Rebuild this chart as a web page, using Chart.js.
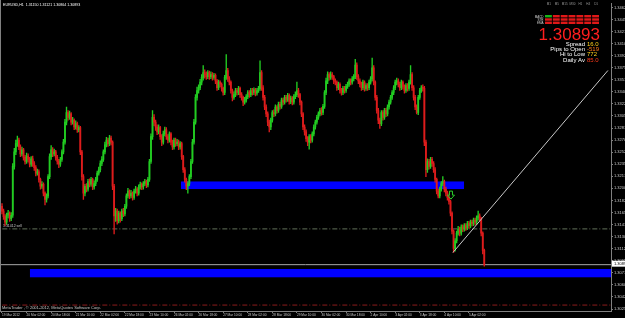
<!DOCTYPE html>
<html>
<head>
<meta charset="utf-8">
<script src="https://cdn.jsdelivr.net/npm/chart.js@4.4.0/dist/chart.umd.min.js"></script>
<style>
html, body { margin: 0; padding: 0; background: #000; }
canvas { display: block; }
</style>
</head>
<body>
<canvas id="chart" width="625" height="318"></canvas>
<script>
"use strict";

// EURUSD H1, one bar per hour from 19 Mar 2012 10:00
const opens = [
    1.3174,1.3167,1.3159,1.3151,1.3161,1.3164,1.3156,1.3161,1.3232,1.3253,
    1.3265,1.3270,1.3260,1.3250,1.3256,1.3245,1.3239,1.3247,1.3242,1.3235,
    1.3243,1.3236,1.3230,1.3222,1.3224,1.3213,1.3203,1.3206,1.3193,1.3184,
    1.3189,1.3217,1.3246,1.3256,1.3250,1.3253,1.3245,1.3239,1.3235,1.3242,
    1.3253,1.3267,1.3296,1.3310,1.3303,1.3308,1.3296,1.3299,1.3289,1.3294,
    1.3285,1.3288,1.3253,1.3217,1.3193,1.3203,1.3199,1.3210,1.3206,1.3213,
    1.3202,1.3207,1.3213,1.3222,1.3227,1.3236,1.3242,1.3253,1.3263,1.3270,
    1.3265,1.3273,1.3267,1.3203,1.3160,1.3167,1.3153,1.3164,1.3156,1.3167,
    1.3163,1.3174,1.3189,1.3196,1.3189,1.3193,1.3187,1.3196,1.3199,1.3193,
    1.3202,1.3206,1.3202,1.3207,1.3210,1.3205,1.3213,1.3239,1.3275,1.3303,
    1.3296,1.3289,1.3282,1.3288,1.3275,1.3267,1.3279,1.3285,1.3275,1.3270,
    1.3279,1.3267,1.3260,1.3270,1.3265,1.3267,1.3260,1.3265,1.3246,1.3227,
    1.3213,1.3203,1.3207,1.3217,1.3239,1.3267,1.3296,1.3332,1.3342,1.3346,
    1.3354,1.3361,1.3368,1.3365,1.3362,1.3368,1.3362,1.3365,1.3361,1.3364,
    1.3356,1.3346,1.3354,1.3351,1.3345,1.3339,1.3361,1.3371,1.3359,1.3354,
    1.3342,1.3332,1.3336,1.3342,1.3339,1.3345,1.3336,1.3332,1.3325,1.3328,
    1.3333,1.3339,1.3336,1.3342,1.3339,1.3343,1.3338,1.3342,1.3345,1.3368,
    1.3346,1.3332,1.3318,1.3308,1.3296,1.3289,1.3299,1.3310,1.3308,1.3318,
    1.3313,1.3322,1.3319,1.3328,1.3325,1.3332,1.3329,1.3335,1.3326,1.3331,
    1.3325,1.3333,1.3336,1.3342,1.3336,1.3325,1.3308,1.3289,1.3282,1.3272,
    1.3267,1.3275,1.3270,1.3279,1.3289,1.3296,1.3303,1.3308,1.3313,1.3310,
    1.3319,1.3339,1.3356,1.3365,1.3361,1.3365,1.3362,1.3356,1.3354,1.3346,
    1.3351,1.3342,1.3339,1.3345,1.3342,1.3348,1.3351,1.3356,1.3354,1.3359,
    1.3362,1.3379,1.3362,1.3356,1.3351,1.3346,1.3354,1.3345,1.3349,1.3346,
    1.3354,1.3359,1.3375,1.3354,1.3332,1.3313,1.3299,1.3294,1.3310,1.3303,
    1.3313,1.3308,1.3318,1.3325,1.3332,1.3339,1.3346,1.3354,1.3356,1.3351,
    1.3346,1.3354,1.3348,1.3342,1.3349,1.3345,1.3354,1.3365,1.3346,1.3332,
    1.3318,1.3310,1.3332,1.3342,1.3346,1.3345,1.3267,1.3227,1.3239,1.3232,
    1.3242,1.3236,1.3227,1.3213,1.3196,1.3189,1.3199,1.3207,1.3210,1.3199,
    1.3193,1.3187,1.3181,1.3164,1.3138,1.3113,1.3124,1.3135,1.3141,1.3135,
    1.3144,1.3141,1.3146,1.3143,1.3149,1.3146,1.3151,1.3149,1.3154,1.3151,
    1.3157,1.3160,1.3156,1.3135,1.3110
];
const highs = [
    1.3178,1.3170,1.3162,1.3164,1.3168,1.3166,1.3165,1.3236,1.3258,1.3270,
    1.3276,1.3273,1.3263,1.3260,1.3258,1.3248,1.3251,1.3250,1.3245,1.3246,
    1.3247,1.3239,1.3233,1.3228,1.3227,1.3215,1.3210,1.3208,1.3195,1.3192,
    1.3220,1.3250,1.3262,1.3259,1.3257,1.3255,1.3248,1.3242,1.3245,1.3256,
    1.3271,1.3300,1.3318,1.3313,1.3312,1.3310,1.3303,1.3301,1.3298,1.3296,
    1.3291,1.3290,1.3255,1.3220,1.3206,1.3207,1.3213,1.3214,1.3216,1.3215,
    1.3211,1.3216,1.3225,1.3231,1.3240,1.3246,1.3256,1.3267,1.3274,1.3273,
    1.3277,1.3276,1.3269,1.3206,1.3171,1.3170,1.3167,1.3166,1.3170,1.3171,
    1.3177,1.3192,1.3200,1.3198,1.3197,1.3195,1.3199,1.3203,1.3201,1.3205,
    1.3209,1.3208,1.3210,1.3213,1.3212,1.3216,1.3242,1.3279,1.3313,1.3307,
    1.3299,1.3292,1.3292,1.3290,1.3278,1.3283,1.3289,1.3288,1.3278,1.3282,
    1.3281,1.3270,1.3273,1.3273,1.3271,1.3270,1.3268,1.3267,1.3248,1.3230,
    1.3215,1.3210,1.3220,1.3242,1.3271,1.3300,1.3336,1.3347,1.3350,1.3358,
    1.3365,1.3378,1.3372,1.3369,1.3371,1.3370,1.3369,1.3368,1.3367,1.3366,
    1.3358,1.3357,1.3356,1.3353,1.3347,1.3364,1.3394,1.3374,1.3362,1.3356,
    1.3344,1.3340,1.3345,1.3345,1.3348,1.3347,1.3339,1.3334,1.3332,1.3336,
    1.3342,1.3342,1.3345,1.3345,1.3346,1.3345,1.3345,1.3348,1.3385,1.3371,
    1.3349,1.3335,1.3321,1.3311,1.3299,1.3302,1.3313,1.3314,1.3321,1.3320,
    1.3325,1.3325,1.3331,1.3331,1.3335,1.3335,1.3338,1.3337,1.3334,1.3333,
    1.3336,1.3340,1.3354,1.3345,1.3338,1.3327,1.3310,1.3292,1.3285,1.3275,
    1.3278,1.3278,1.3282,1.3292,1.3299,1.3306,1.3311,1.3316,1.3317,1.3322,
    1.3342,1.3360,1.3369,1.3368,1.3369,1.3368,1.3364,1.3359,1.3356,1.3354,
    1.3353,1.3345,1.3348,1.3348,1.3351,1.3354,1.3359,1.3359,1.3362,1.3365,
    1.3387,1.3382,1.3365,1.3359,1.3354,1.3357,1.3356,1.3352,1.3352,1.3357,
    1.3362,1.3389,1.3378,1.3356,1.3335,1.3316,1.3302,1.3313,1.3313,1.3316,
    1.3316,1.3321,1.3328,1.3335,1.3342,1.3349,1.3357,1.3360,1.3359,1.3354,
    1.3357,1.3356,1.3350,1.3352,1.3352,1.3357,1.3378,1.3368,1.3349,1.3335,
    1.3321,1.3335,1.3345,1.3349,1.3350,1.3348,1.3270,1.3243,1.3242,1.3245,
    1.3245,1.3239,1.3230,1.3215,1.3199,1.3202,1.3210,1.3217,1.3212,1.3202,
    1.3196,1.3190,1.3183,1.3166,1.3140,1.3127,1.3138,1.3145,1.3144,1.3147,
    1.3147,1.3149,1.3149,1.3152,1.3152,1.3154,1.3154,1.3157,1.3157,1.3160,
    1.3167,1.3163,1.3158,1.3137,1.3112
];
const lows = [
    1.3163,1.3155,1.3146,1.3148,1.3157,1.3152,1.3153,1.3158,1.3228,1.3249,
    1.3261,1.3256,1.3246,1.3247,1.3241,1.3235,1.3236,1.3238,1.3231,1.3232,
    1.3232,1.3226,1.3218,1.3219,1.3209,1.3199,1.3200,1.3189,1.3176,1.3180,
    1.3186,1.3214,1.3242,1.3246,1.3247,1.3241,1.3235,1.3230,1.3232,1.3239,
    1.3250,1.3264,1.3292,1.3299,1.3300,1.3292,1.3293,1.3285,1.3286,1.3281,
    1.3282,1.3249,1.3212,1.3184,1.3189,1.3195,1.3196,1.3202,1.3203,1.3198,
    1.3199,1.3204,1.3210,1.3219,1.3224,1.3233,1.3239,1.3250,1.3260,1.3261,
    1.3262,1.3263,1.3198,1.3134,1.3152,1.3148,1.3150,1.3151,1.3153,1.3159,
    1.3160,1.3171,1.3186,1.3185,1.3186,1.3183,1.3184,1.3193,1.3189,1.3190,
    1.3199,1.3198,1.3199,1.3204,1.3201,1.3202,1.3210,1.3236,1.3271,1.3291,
    1.3284,1.3278,1.3279,1.3271,1.3262,1.3264,1.3276,1.3271,1.3266,1.3267,
    1.3263,1.3256,1.3257,1.3261,1.3262,1.3256,1.3257,1.3242,1.3223,1.3209,
    1.3198,1.3193,1.3204,1.3214,1.3236,1.3264,1.3293,1.3328,1.3338,1.3343,
    1.3350,1.3357,1.3360,1.3358,1.3359,1.3358,1.3359,1.3357,1.3358,1.3352,
    1.3342,1.3343,1.3347,1.3341,1.3335,1.3336,1.3358,1.3355,1.3350,1.3338,
    1.3327,1.3329,1.3333,1.3335,1.3336,1.3332,1.3328,1.3320,1.3322,1.3325,
    1.3330,1.3332,1.3333,1.3335,1.3336,1.3334,1.3335,1.3339,1.3342,1.3342,
    1.3328,1.3314,1.3304,1.3291,1.3282,1.3285,1.3296,1.3304,1.3305,1.3309,
    1.3310,1.3315,1.3316,1.3321,1.3322,1.3325,1.3326,1.3322,1.3323,1.3321,
    1.3322,1.3330,1.3333,1.3332,1.3321,1.3304,1.3285,1.3277,1.3268,1.3262,
    1.3257,1.3266,1.3267,1.3276,1.3286,1.3293,1.3300,1.3305,1.3306,1.3307,
    1.3316,1.3336,1.3352,1.3357,1.3358,1.3358,1.3352,1.3350,1.3342,1.3343,
    1.3338,1.3335,1.3336,1.3338,1.3339,1.3345,1.3348,1.3350,1.3351,1.3356,
    1.3359,1.3358,1.3352,1.3347,1.3342,1.3343,1.3341,1.3342,1.3342,1.3343,
    1.3351,1.3356,1.3350,1.3328,1.3309,1.3294,1.3287,1.3291,1.3299,1.3300,
    1.3304,1.3305,1.3315,1.3322,1.3329,1.3336,1.3343,1.3350,1.3347,1.3342,
    1.3343,1.3344,1.3338,1.3339,1.3341,1.3342,1.3351,1.3342,1.3328,1.3314,
    1.3308,1.3307,1.3329,1.3339,1.3341,1.3262,1.3217,1.3223,1.3228,1.3229,
    1.3232,1.3223,1.3209,1.3192,1.3186,1.3186,1.3196,1.3204,1.3195,1.3189,
    1.3183,1.3177,1.3160,1.3134,1.3107,1.3109,1.3121,1.3132,1.3131,1.3132,
    1.3137,1.3138,1.3139,1.3140,1.3142,1.3143,1.3145,1.3146,1.3147,1.3148,
    1.3154,1.3152,1.3131,1.3105,1.3087
];
const closes = [
    1.3167,1.3159,1.3151,1.3161,1.3164,1.3156,1.3161,1.3232,1.3253,1.3265,
    1.3270,1.3260,1.3250,1.3256,1.3245,1.3239,1.3247,1.3242,1.3235,1.3243,
    1.3236,1.3230,1.3222,1.3224,1.3213,1.3203,1.3206,1.3193,1.3184,1.3189,
    1.3217,1.3246,1.3256,1.3250,1.3253,1.3245,1.3239,1.3235,1.3242,1.3253,
    1.3267,1.3296,1.3310,1.3303,1.3308,1.3296,1.3299,1.3289,1.3294,1.3285,
    1.3288,1.3253,1.3217,1.3193,1.3203,1.3199,1.3210,1.3206,1.3213,1.3202,
    1.3207,1.3213,1.3222,1.3227,1.3236,1.3242,1.3253,1.3263,1.3270,1.3265,
    1.3273,1.3267,1.3203,1.3160,1.3167,1.3153,1.3164,1.3156,1.3167,1.3163,
    1.3174,1.3189,1.3196,1.3189,1.3193,1.3187,1.3196,1.3199,1.3193,1.3202,
    1.3206,1.3202,1.3207,1.3210,1.3205,1.3213,1.3239,1.3275,1.3303,1.3296,
    1.3289,1.3282,1.3288,1.3275,1.3267,1.3279,1.3285,1.3275,1.3270,1.3279,
    1.3267,1.3260,1.3270,1.3265,1.3267,1.3260,1.3265,1.3246,1.3227,1.3213,
    1.3203,1.3207,1.3217,1.3239,1.3267,1.3296,1.3332,1.3342,1.3346,1.3354,
    1.3361,1.3368,1.3365,1.3362,1.3368,1.3362,1.3365,1.3361,1.3364,1.3356,
    1.3346,1.3354,1.3351,1.3345,1.3339,1.3361,1.3371,1.3359,1.3354,1.3342,
    1.3332,1.3336,1.3342,1.3339,1.3345,1.3336,1.3332,1.3325,1.3328,1.3333,
    1.3339,1.3336,1.3342,1.3339,1.3343,1.3338,1.3342,1.3345,1.3368,1.3346,
    1.3332,1.3318,1.3308,1.3296,1.3289,1.3299,1.3310,1.3308,1.3318,1.3313,
    1.3322,1.3319,1.3328,1.3325,1.3332,1.3329,1.3335,1.3326,1.3331,1.3325,
    1.3333,1.3336,1.3342,1.3336,1.3325,1.3308,1.3289,1.3282,1.3272,1.3267,
    1.3275,1.3270,1.3279,1.3289,1.3296,1.3303,1.3308,1.3313,1.3310,1.3319,
    1.3339,1.3356,1.3365,1.3361,1.3365,1.3362,1.3356,1.3354,1.3346,1.3351,
    1.3342,1.3339,1.3345,1.3342,1.3348,1.3351,1.3356,1.3354,1.3359,1.3362,
    1.3379,1.3362,1.3356,1.3351,1.3346,1.3354,1.3345,1.3349,1.3346,1.3354,
    1.3359,1.3375,1.3354,1.3332,1.3313,1.3299,1.3294,1.3310,1.3303,1.3313,
    1.3308,1.3318,1.3325,1.3332,1.3339,1.3346,1.3354,1.3356,1.3351,1.3346,
    1.3354,1.3348,1.3342,1.3349,1.3345,1.3354,1.3365,1.3346,1.3332,1.3318,
    1.3310,1.3332,1.3342,1.3346,1.3345,1.3267,1.3227,1.3239,1.3232,1.3242,
    1.3236,1.3227,1.3213,1.3196,1.3189,1.3199,1.3207,1.3210,1.3199,1.3193,
    1.3187,1.3181,1.3164,1.3138,1.3113,1.3124,1.3135,1.3141,1.3135,1.3144,
    1.3141,1.3146,1.3143,1.3149,1.3146,1.3151,1.3149,1.3154,1.3151,1.3157,
    1.3160,1.3156,1.3135,1.3110,1.30893
];

const timeLabels = ["19 Mar 2012", "20 Mar 02:00", "20 Mar 18:00", "21 Mar 10:00", "22 Mar 02:00",
    "22 Mar 18:00", "23 Mar 10:00", "26 Mar 02:00", "26 Mar 18:00", "27 Mar 10:00",
    "28 Mar 02:00", "28 Mar 18:00", "29 Mar 10:00", "30 Mar 02:00", "30 Mar 18:00",
    "2 Apr 10:00", "3 Apr 02:00", "3 Apr 18:00", "4 Apr 10:00", "5 Apr 02:00"];
const barsPerLabel = 16;

const priceTicks = [1.30250, 1.30425, 1.30600, 1.30775, 1.30950, 1.31125, 1.31300, 1.31475,
    1.31650, 1.31825, 1.32000, 1.32175, 1.32350, 1.32525, 1.32700, 1.32875, 1.33050,
    1.33225, 1.33400, 1.33575, 1.33750, 1.33925, 1.34100, 1.34275, 1.34450, 1.34625];

const bidPrice = 1.30893;
const sellPrice = 1.31412;
const stopPrice = 1.30307;
const trendBars = [293.6, 394.5];
const trendPrices = [1.3107, 1.3371];

// blue zones: first bar, last bar, top price, bottom price
const zoneFrom = [116.5, 18.2];
const zoneTo = [300.8, 400];
const zoneTop = [1.3210, 1.3083];
const zoneBottom = [1.3199, 1.3071];

const arrowBar = 292.3;
const arrowPrice = 1.3196;

const header = "EURUSD,H1  1.31150 1.31121 1.30864 1.30893";
const copyright = "MetaTrader , \u00a9 2001-2012, MetaQuotes Software Corp.";
const infoLabels = ["Spread", "Pips to Open", "Hi to Low", "Daily Av"];
const infoValues = ["16.0", "-519", "772", "85.0"];
const infoColors = ["#ffd21a", "#ff7a1a", "#ffd21a", "#ff3a1a"];
const frames = ["M1", "M5", "M15", "M30", "H1", "H4", "D1"];
const signalRows = ["MACD", "STR", "EMA"];

const xMin = -1.3, xMax = 396.5;
const yMin = 1.30221, yMax = 1.34683;

const bull = "#22cc22";
const bear = "#dd1c1c";
function candleColor(i) {
    return closes[i] >= opens[i] ? bull : bear;
}

function flatLine(price) {
    return [{x: xMin - 5, y: price}, {x: xMax + 5, y: price}];
}

const decor = {
    id: "decor",
    beforeDatasetsDraw(chart) {
        const {ctx, chartArea, scales} = chart;
        ctx.save();
        ctx.beginPath();
        ctx.rect(chartArea.left, chartArea.top, chartArea.right - chartArea.left, chartArea.bottom - chartArea.top);
        ctx.clip();
        ctx.fillStyle = "#0000ff";
        for (let k = 0; k < zoneFrom.length; k++) {
            const x0 = scales.x.getPixelForValue(zoneFrom[k]);
            const x1 = scales.x.getPixelForValue(zoneTo[k]);
            const y0 = scales.y.getPixelForValue(zoneTop[k]);
            const y1 = scales.y.getPixelForValue(zoneBottom[k]);
            ctx.fillRect(x0, y0, x1 - x0, y1 - y0);
        }
        ctx.restore();
    },
    afterDraw(chart) {
        const {ctx, chartArea, scales} = chart;
        ctx.save();

        // frame on the left
        ctx.strokeStyle = "#808080";
        ctx.lineWidth = 1;
        ctx.beginPath();
        ctx.moveTo(0.5, 0);
        ctx.lineTo(0.5, chartArea.bottom);
        ctx.stroke();

        ctx.textBaseline = "alphabetic";
        ctx.textAlign = "left";
        ctx.fillStyle = "#ffffff";
        ctx.font = "3.6px 'Liberation Sans'";
        ctx.fillText(header, 3, 6);

        ctx.fillStyle = "#c8c8c8";
        ctx.font = "4px 'Liberation Sans'";
        ctx.fillText(copyright, 2, 309);

        const ySell = scales.y.getPixelForValue(sellPrice);
        ctx.font = "3.5px 'Liberation Sans'";
        ctx.fillText(sellPrice.toFixed(5) + " sell", 3, ySell - 1.5);

        // down arrow
        const ax = scales.x.getPixelForValue(arrowBar);
        const ay = scales.y.getPixelForValue(arrowPrice);
        ctx.strokeStyle = "#2bd02b";
        ctx.lineWidth = 1;
        ctx.beginPath();
        ctx.moveTo(ax - 1.5, ay);
        ctx.lineTo(ax + 1.5, ay);
        ctx.lineTo(ax + 1.5, ay + 4);
        ctx.lineTo(ax + 3.5, ay + 4);
        ctx.lineTo(ax, ay + 8);
        ctx.lineTo(ax - 3.5, ay + 4);
        ctx.lineTo(ax - 1.5, ay + 4);
        ctx.closePath();
        ctx.stroke();

        // bid label on the price axis
        const yBid = scales.y.getPixelForValue(bidPrice);
        ctx.fillStyle = "#ffffff";
        ctx.fillRect(chartArea.right + 1, yBid - 4, 20, 6);
        ctx.fillStyle = "#000000";
        ctx.font = "4px 'Liberation Sans'";
        ctx.fillText(bidPrice.toFixed(5), chartArea.right + 3, yBid + 0.5);

        // signal bars panel
        const gx = 545, gw = 55, colW = gw / frames.length;
        ctx.font = "3px 'Liberation Sans'";
        ctx.textAlign = "center";
        ctx.fillStyle = "#9a9a9a";
        frames.forEach((f, c) => ctx.fillText(f, gx + colW * c + colW / 2, 5));
        ctx.textAlign = "right";
        ctx.fillStyle = "#d0d0d0";
        signalRows.forEach((r, k) => ctx.fillText(r, gx - 1.5, 17.5 + k * 3.3));
        for (let rIdx = 0; rIdx < signalRows.length; rIdx++) {
            for (let c = 0; c < frames.length; c++) {
                ctx.fillStyle = (rIdx === 0 && c === 0) ? "#18b418" : "#e01818";
                ctx.fillRect(gx + colW * c, 15 + rIdx * 3.3, colW - 1, 2.4);
            }
        }

        ctx.fillStyle = "#ff1e1e";
        ctx.font = "17px 'Liberation Sans'";
        ctx.textAlign = "right";
        ctx.fillText(bidPrice.toFixed(5), 600, 39.5);

        ctx.font = "6px 'Liberation Sans'";
        const base = [45.5, 50.8, 56, 61.5];
        infoLabels.forEach((lab, k) => {
            ctx.textAlign = "right";
            ctx.fillStyle = "#ffffff";
            ctx.fillText(lab, 585, base[k]);
            ctx.textAlign = "left";
            ctx.fillStyle = infoColors[k];
            ctx.fillText(infoValues[k], 587, base[k]);
        });

        ctx.restore();
    }
};

new Chart(document.getElementById("chart"), {
    type: "bar",
    data: {
        datasets: [
            {
                label: "wick",
                data: closes.map((c, i) => ({x: i, y: [lows[i], highs[i]]})),
                backgroundColor: (ctx) => candleColor(ctx.dataIndex),
                barThickness: 0.7,
                grouped: false,
                order: 3
            },
            {
                label: "body",
                data: closes.map((c, i) => ({x: i, y: [opens[i], c]})),
                backgroundColor: (ctx) => candleColor(ctx.dataIndex),
                barThickness: 1.15,
                minBarLength: 1,
                grouped: false,
                order: 2
            },
            {
                type: "line",
                label: "bid",
                data: flatLine(bidPrice),
                borderColor: "#a8a8a8",
                borderWidth: 1,
                pointRadius: 0,
                order: 4
            },
            {
                type: "line",
                label: "sell",
                data: flatLine(sellPrice),
                borderColor: "#62705a",
                borderWidth: 1,
                borderDash: [5, 2, 1, 2],
                pointRadius: 0,
                order: 4
            },
            {
                type: "line",
                label: "stop",
                data: flatLine(stopPrice),
                borderColor: "#8c1c1c",
                borderWidth: 1,
                borderDash: [5, 2, 1, 2],
                pointRadius: 0,
                order: 4
            },
            {
                type: "line",
                label: "trend",
                data: trendBars.map((b, k) => ({x: b, y: trendPrices[k]})),
                borderColor: "#c8c8c8",
                borderWidth: 1,
                pointRadius: 0,
                order: 1
            }
        ]
    },
    options: {
        responsive: false,
        devicePixelRatio: 1,
        animation: false,
        events: [],
        layout: {padding: 0},
        plugins: {legend: {display: false}, tooltip: {enabled: false}},
        scales: {
            x: {
                type: "linear",
                min: xMin,
                max: xMax,
                offset: false,
                afterBuildTicks: (scale) => {
                    scale.ticks = timeLabels.map((t, k) => ({value: k * barsPerLabel}));
                },
                afterFit: (scale) => { scale.height = 7; },
                ticks: {
                    autoSkip: false,
                    maxRotation: 0,
                    align: "start",
                    padding: 0,
                    color: "#c8c8c8",
                    font: {family: "Liberation Sans", size: 3.2},
                    callback: (v, i) => timeLabels[i]
                },
                grid: {display: true, drawOnChartArea: false, drawTicks: true, tickLength: 2, color: "#808080", offset: false},
                border: {display: true, color: "#808080"}
            },
            y: {
                type: "linear",
                position: "right",
                min: yMin,
                max: yMax,
                afterBuildTicks: (scale) => {
                    scale.ticks = priceTicks.map((v) => ({value: v}));
                },
                afterFit: (scale) => { scale.width = 14; },
                ticks: {
                    padding: 1,
                    color: "#c8c8c8",
                    font: {family: "Liberation Sans", size: 4},
                    callback: (v) => v.toFixed(5)
                },
                grid: {display: true, drawOnChartArea: false, drawTicks: true, tickLength: 2, color: "#808080"},
                border: {display: true, color: "#808080"}
            }
        }
    },
    plugins: [decor]
});
</script>
</body>
</html>
